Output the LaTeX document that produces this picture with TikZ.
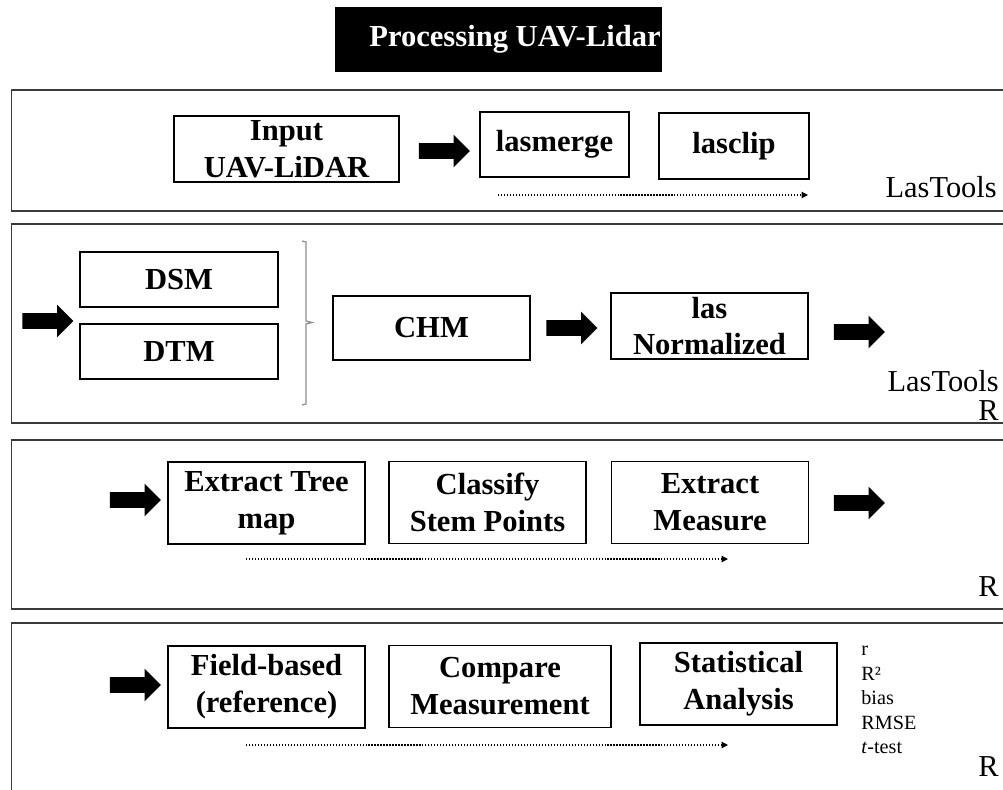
\documentclass[tikz,border=0pt]{standalone}
\usepackage{fontspec}
\setmainfont{Liberation Serif}
\usetikzlibrary{arrows.meta,positioning,shapes.arrows,decorations.pathreplacing}
\definecolor{framegray}{HTML}{3A3A3A}
\definecolor{bracegray}{HTML}{8C8C8C}
\newcommand{\boxfont}{\fontsize{17.4}{21}\selectfont\bfseries}
\newcommand{\toolfont}{\fontsize{17.3}{20}\selectfont}
\newcommand{\statfont}{\fontsize{11.5}{13.9}\selectfont}
\tikzset{
  titlebox/.style={
    fill=black,
    text=white,
    minimum width=6.54cm,
    minimum height=1.3cm,
    inner xsep=0pt,
    font=\boxfont
  },
  stepbox/.style={
    draw=black,
    line width=0.9pt,
    minimum width=3.94cm,
    minimum height=1.28cm,
    inner sep=2pt,
    align=center,
    font=\boxfont
  },
  tallbox/.style={stepbox, minimum height=1.64cm},
  stageframe/.style={draw=framegray, line width=1.1pt},
  blockarrow/.style={
    single arrow,
    fill=black,
    draw=none,
    inner sep=0pt,
    inner ysep=0.15cm,
    minimum height=1.02cm,
    single arrow head extend=0.17cm,
    single arrow head indent=0pt
  },
  flowline/.style={densely dotted, line width=0.7pt, -{Triangle[length=1.3mm,width=1.3mm]}},
  sidelabel/.style={anchor=east, inner sep=0pt, font=\toolfont}
}

\begin{document}
\begin{tikzpicture}[x=0.2mm,y=-0.2mm]
  \useasboundingbox (0,0) rectangle (1003,789);

  % banner
  \node[titlebox] (title) at (498.5,39.5) {\hspace*{0.66cm}Processing UAV-Lidar};

  % stage frames (right side runs off the page)
  \draw[stageframe] (11.5,90) rectangle (1020,211);
  \draw[stageframe] (11.5,224) rectangle (1020,423);
  \draw[stageframe] (11.5,440) rectangle (1020,609);
  \draw[stageframe] (11.5,623) rectangle (1020,810);

  % stage 1: LasTools
  \node[stepbox, minimum width=4.5cm, minimum height=1.32cm] (input) at (286.5,149) {Input\\UAV-LiDAR};
  \node[blockarrow] (arrA) at (440.5,151) {};
  \node[stepbox, minimum width=2.98cm, minimum height=1.3cm] (lasmerge) at (554.5,144.5) {lasmerge};
  \node[stepbox, minimum width=3.0cm, minimum height=1.32cm] (lasclip) at (734,146) {lasclip};
  \coordinate (flowAs) at (498,195);
  \coordinate (flowAe) at (808,195);
  \draw[flowline] (flowAs) -- (flowAe);
  \node[sidelabel] (toolsA) at (997,187) {LasTools};

  % stage 2: surface models and normalization
  \node[blockarrow] (arrB) at (44,321) {};
  \node[stepbox, minimum width=3.96cm, minimum height=1.1cm] (dsm) at (179,279.5) {DSM};
  \node[stepbox, minimum width=3.96cm, minimum height=1.1cm] (dtm) at (179,351.5) {DTM};
  \draw[bracegray, line width=0.7pt] (302,241) -- (306,242) -- (306,321) -- (312,322.5)
    -- (306,324) -- (306,404) -- (302,405);
  \node[stepbox] (chm) at (431.5,328) {CHM};
  \node[blockarrow] (arrC) at (568,328) {};
  \node[stepbox] (lasnorm) at (709.5,326) {las\\Normalized};
  \node[blockarrow] (arrD) at (855.5,332) {};
  \node[sidelabel] (toolsB) at (999,381) {LasTools};
  \node[sidelabel] (rB) at (999,411) {R};

  % stage 3: tree extraction
  \node[blockarrow] (arrE) at (131.5,500) {};
  \node[tallbox] (treemap) at (266.5,503) {Extract Tree\\map};
  \node[tallbox] (stem) at (487.5,502.5) {Classify\\Stem Points};
  \node[tallbox] (measure) at (710,502.5) {Extract\\Measure};
  \node[blockarrow] (arrF) at (855.5,503) {};
  \coordinate (flowCs) at (246,559);
  \coordinate (flowCe) at (728,559);
  \draw[flowline] (flowCs) -- (flowCe);
  \node[sidelabel] (rC) at (999,587) {R};

  % stage 4: validation
  \node[blockarrow] (arrG) at (131.5,685) {};
  \node[tallbox] (field) at (266.5,687) {Field-based\\(reference)};
  \node[tallbox, minimum width=4.44cm] (compare) at (500,686.5) {Compare\\Measurement};
  \node[tallbox] (stats) at (738.5,684) {Statistical\\Analysis};
  \coordinate (flowDs) at (246,745);
  \coordinate (flowDe) at (728,745);
  \draw[flowline] (flowDs) -- (flowDe);
  \node[anchor=north west, inner sep=0pt, align=left, font=\statfont] (metrics) at (861,646) {r\\R²\\bias\\RMSE\\\textit{t}-test};
  \node[sidelabel] (rD) at (999,767) {R};
\end{tikzpicture}
\end{document}
